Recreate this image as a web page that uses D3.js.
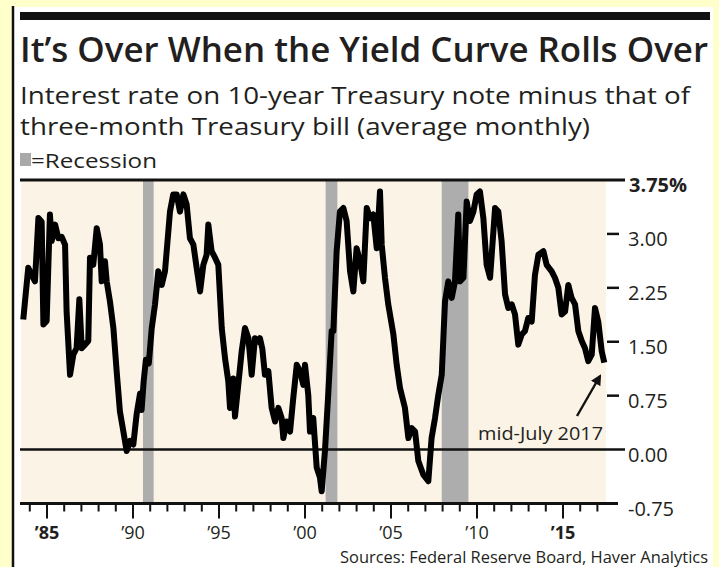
<!DOCTYPE html>
<html>
<head>
<meta charset="utf-8">
<script src="https://cdn.jsdelivr.net/npm/d3@7"></script>
<style>
  html, body { margin: 0; padding: 0; background: #ffffcc; }
  text { font-family: "Open Sans", "Noto Sans", sans-serif; fill: #231f20; }
</style>
</head>
<body>
<svg id="chart" width="719" height="567"></svg>
<script>
// Yield spread, 10y note minus 3m bill (percentage points)
const years = [
  1983.62, 1983.91, 1984.11, 1984.30, 1984.50, 1984.69, 1984.79, 1984.98, 1985.17, 1985.27,
  1985.47, 1985.66, 1985.85, 1986.05, 1986.14, 1986.34, 1986.53, 1986.72, 1986.88, 1987.02,
  1987.21, 1987.40, 1987.50, 1987.69, 1987.89, 1988.08, 1988.18, 1988.37, 1988.47, 1988.66,
  1988.86, 1989.05, 1989.24, 1989.44, 1989.63, 1989.83, 1990.02, 1990.21, 1990.41, 1990.50,
  1990.62, 1990.75, 1990.92, 1991.09, 1991.28, 1991.47, 1991.67, 1991.86, 1992.15, 1992.34,
  1992.54, 1992.73, 1992.93, 1993.12, 1993.31, 1993.51, 1993.70, 1993.90, 1994.09, 1994.28,
  1994.38, 1994.57, 1994.77, 1994.96, 1995.16, 1995.35, 1995.54, 1995.64, 1995.83, 1995.93,
  1996.12, 1996.32, 1996.51, 1996.71, 1996.90, 1997.09, 1997.29, 1997.38, 1997.52, 1997.67,
  1997.87, 1998.06, 1998.26, 1998.45, 1998.64, 1998.74, 1998.93, 1999.13, 1999.32, 1999.52,
  1999.71, 1999.90, 2000.00, 2000.19, 2000.29, 2000.48, 2000.68, 2000.87, 2000.97, 2001.16,
  2001.36, 2001.55, 2001.65, 2001.84, 2002.03, 2002.23, 2002.42, 2002.62, 2002.81, 2003.00,
  2003.20, 2003.39, 2003.59, 2003.78, 2003.97, 2004.17, 2004.36, 2004.46, 2004.65, 2004.84,
  2005.14, 2005.33, 2005.52, 2005.81, 2006.01, 2006.20, 2006.40, 2006.59, 2006.88, 2007.17,
  2007.36, 2007.56, 2007.75, 2007.95, 2008.14, 2008.33, 2008.53, 2008.72, 2008.91, 2009.01,
  2009.21, 2009.40, 2009.59, 2009.79, 2009.98, 2010.17, 2010.37, 2010.56, 2010.76, 2011.05,
  2011.24, 2011.43, 2011.63, 2011.82, 2012.02, 2012.21, 2012.40, 2012.60, 2012.79, 2012.98,
  2013.18, 2013.37, 2013.57, 2013.86, 2014.05, 2014.34, 2014.53, 2014.73, 2014.92, 2015.12,
  2015.31, 2015.50, 2015.70, 2015.89, 2016.09, 2016.28, 2016.47, 2016.67, 2016.86, 2017.05,
  2017.25, 2017.40
];
const spread = [
  1.81, 2.53, 2.43, 2.34, 3.22, 3.17, 1.74, 1.79, 3.27, 2.90,
  3.13, 2.94, 2.96, 2.85, 1.92, 1.04, 1.32, 1.41, 2.09, 1.41,
  1.46, 1.51, 2.67, 2.57, 3.08, 2.85, 2.34, 2.62, 2.34, 2.06,
  1.69, 1.09, 0.53, 0.25, -0.02, 0.12, 0.07, 0.49, 0.78, 0.55,
  0.95, 1.25, 1.20, 1.69, 2.02, 2.48, 2.29, 2.48, 3.31, 3.55,
  3.55, 3.31, 3.55, 3.41, 2.94, 2.85, 2.53, 2.20, 2.57, 2.71,
  3.13, 2.76, 2.67, 2.57, 1.69, 1.27, 0.95, 0.58, 0.99, 0.46,
  0.90, 1.37, 1.69, 1.55, 1.04, 1.55, 1.50, 1.55, 1.40, 1.04,
  1.09, 0.58, 0.39, 0.58, 0.44, 0.16, 0.39, 0.25, 0.72, 1.18,
  1.09, 0.90, 1.18, 0.76, 0.25, 0.44, -0.25, -0.39, -0.58, -0.02,
  0.81, 1.65, 1.65, 2.76, 3.31, 3.36, 3.18, 2.48, 2.20, 2.80,
  2.62, 2.34, 3.36, 3.22, 3.27, 2.80, 3.59, 2.85, 2.39, 2.02,
  1.60, 1.18, 0.86, 0.58, 0.16, 0.30, 0.25, -0.16, -0.35, -0.44,
  0.16, 0.44, 0.76, 1.04, 2.06, 2.34, 2.11, 2.34, 3.27, 2.34,
  2.39, 3.45, 3.18, 3.31, 3.55, 3.59, 3.22, 2.57, 2.39, 3.36,
  3.31, 2.90, 2.16, 1.97, 2.02, 1.88, 1.46, 1.60, 1.65, 1.83,
  1.78, 2.43, 2.71, 2.76, 2.57, 2.48, 2.39, 2.25, 1.88, 1.92,
  2.29, 2.11, 2.02, 1.65, 1.51, 1.41, 1.23, 1.32, 1.97, 1.78,
  1.37, 1.21
];
const recessionStart = [1990.58, 2001.2, 2007.95];
const recessionEnd = [1991.2, 2001.88, 2009.5];
const yTicks = [3.75, 3.00, 2.25, 1.50, 0.75, 0.00, -0.75];
const yLabels = ["3.75%", "3.00", "2.25", "1.50", "0.75", "0.00", "-0.75"];
const xMajor = [1985, 1990, 1995, 2000, 2005, 2010, 2015];
const xLabels = ["\u201985", "\u201990", "\u201995", "\u201900", "\u201905", "\u201910", "\u201915"];

const svg = d3.select("#chart");

// outer panel
svg.append("rect").attr("x", 0).attr("y", 0).attr("width", 719).attr("height", 567).attr("fill", "#ffffcc");
svg.append("rect").attr("x", 13).attr("y", 7).attr("width", 700).attr("height", 560).attr("fill", "#ffffff");
svg.append("line").attr("x1", 13).attr("x2", 13).attr("y1", 6).attr("y2", 567)
  .attr("stroke", "#111").attr("stroke-width", 2.5);
svg.append("rect").attr("x", 20).attr("y", 12).attr("width", 690).attr("height", 8).attr("fill", "#111");

// headings
svg.append("text").attr("x", 20).attr("y", 62)
  .attr("textLength", 688).attr("lengthAdjust", "spacingAndGlyphs")
  .style("font-size", "35px").style("font-weight", 600)
  .text("It\u2019s Over When the Yield Curve Rolls Over");
svg.append("text").attr("x", 20).attr("y", 104)
  .attr("textLength", 670).attr("lengthAdjust", "spacingAndGlyphs")
  .style("font-size", "23.5px")
  .text("Interest rate on 10-year Treasury note minus that of");
svg.append("text").attr("x", 20).attr("y", 135)
  .attr("textLength", 570).attr("lengthAdjust", "spacingAndGlyphs")
  .style("font-size", "23.5px")
  .text("three-month Treasury bill (average monthly)");
svg.append("rect").attr("x", 20).attr("y", 153).attr("width", 11).attr("height", 13).attr("fill", "#a9a9a9");
svg.append("text").attr("x", 31).attr("y", 168)
  .attr("textLength", 126).attr("lengthAdjust", "spacingAndGlyphs")
  .style("font-size", "20px").text("=Recession");

// scales
const x = d3.scaleLinear().domain([1985, 2015]).range([47, 563]);
const y = d3.scaleLinear().domain([-0.75, 3.75]).range([503.5, 180]);

const plot = svg.append("g");
plot.append("rect")
  .attr("x", 21).attr("y", y(3.75))
  .attr("width", x(2017.5) - 21).attr("height", y(-0.75) - y(3.75))
  .attr("fill", "#fbf3e6");

plot.selectAll("rect.recession")
  .data(d3.zip(recessionStart, recessionEnd))
  .join("rect")
    .attr("class", "recession")
    .attr("x", d => x(d[0]))
    .attr("width", d => x(d[1]) - x(d[0]))
    .attr("y", y(3.75))
    .attr("height", y(-0.75) - y(3.75))
    .attr("fill", "#adadad");

// frame lines
plot.append("line").attr("x1", 20).attr("x2", 625).attr("y1", y(3.75)).attr("y2", y(3.75))
  .attr("stroke", "#111").attr("stroke-width", 3);
plot.append("line").attr("x1", 20).attr("x2", 625).attr("y1", y(0)).attr("y2", y(0))
  .attr("stroke", "#111").attr("stroke-width", 2.5);
plot.append("line").attr("x1", 20).attr("x2", 618).attr("y1", y(-0.75)).attr("y2", y(-0.75))
  .attr("stroke", "#111").attr("stroke-width", 3);

// x ticks: one per year, longer every five
const tickYears = d3.range(1984, 2018);
plot.selectAll("line.xtick")
  .data(tickYears)
  .join("line")
    .attr("class", "xtick")
    .attr("x1", d => x(d)).attr("x2", d => x(d))
    .attr("y1", y(-0.75))
    .attr("y2", d => y(-0.75) + (d % 5 === 0 ? 15 : 8))
    .attr("stroke", "#111").attr("stroke-width", 2);

plot.selectAll("text.xlab")
  .data(xMajor)
  .join("text")
    .attr("class", "xlab")
    .attr("x", d => x(d)).attr("y", 539)
    .attr("text-anchor", "middle")
    .style("font-size", "18px")
    .style("font-weight", (d, i) => (i === 0 || i === xMajor.length - 1) ? 700 : 400)
    .text((d, i) => xLabels[i]);

// y ticks and labels
plot.selectAll("line.ytick")
  .data(yTicks.filter(v => v > 0 && v < 3.75))
  .join("line")
    .attr("class", "ytick")
    .attr("x1", 607).attr("x2", 619)
    .attr("y1", d => y(d)).attr("y2", d => y(d))
    .attr("stroke", "#111").attr("stroke-width", 2.5);

plot.selectAll("text.ylab")
  .data(yTicks)
  .join("text")
    .attr("class", "ylab")
    .attr("x", d => d === 3.75 ? 629 : 628).attr("y", d => y(d) + 12)
    .style("font-size", "20px")
    .style("font-weight", (d, i) => i === 0 ? 700 : 400)
    .text((d, i) => yLabels[i]);

// the spread line
const line = d3.line().x(d => x(d[0])).y(d => y(d[1]));
plot.append("path")
  .datum(d3.zip(years, spread))
  .attr("d", line)
  .attr("fill", "none")
  .attr("stroke", "#000")
  .attr("stroke-width", 6)
  .attr("stroke-linejoin", "round");

// annotation
svg.append("defs").append("marker")
  .attr("id", "head").attr("viewBox", "0 0 10 10")
  .attr("refX", 8).attr("refY", 5)
  .attr("markerWidth", 4.5).attr("markerHeight", 4.5)
  .attr("orient", "auto")
  .append("path").attr("d", "M0,0L10,5L0,10z").attr("fill", "#111");
plot.append("line")
  .attr("x1", 577).attr("y1", 416).attr("x2", 600).attr("y2", 376)
  .attr("stroke", "#111").attr("stroke-width", 2.4)
  .attr("marker-end", "url(#head)");
plot.append("text").attr("x", 603).attr("y", 440)
  .attr("text-anchor", "end")
  .attr("textLength", 125).attr("lengthAdjust", "spacingAndGlyphs")
  .style("font-size", "18px")
  .text("mid-July 2017");

svg.append("text").attr("x", 708).attr("y", 563)
  .attr("text-anchor", "end")
  .attr("textLength", 368).attr("lengthAdjust", "spacingAndGlyphs")
  .style("font-size", "16px")
  .text("Sources: Federal Reserve Board, Haver Analytics");
</script>
</body>
</html>
